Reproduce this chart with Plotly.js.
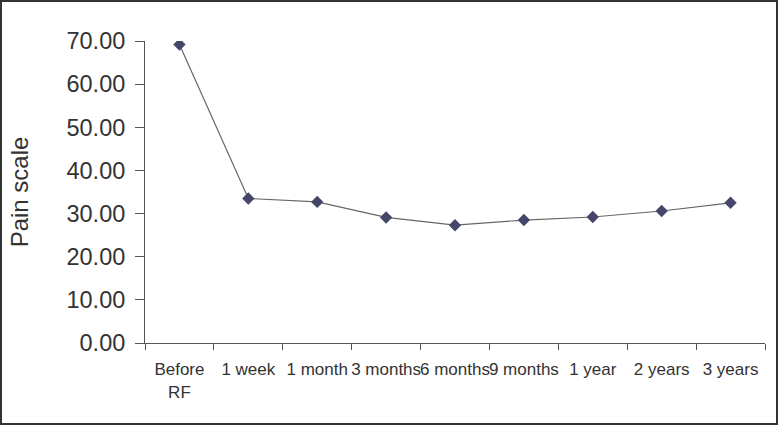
<!DOCTYPE html>
<html>
<head>
<meta charset="utf-8">
<script src="https://cdn.plot.ly/plotly-3.0.1.min.js"></script>
<style>
  html, body { margin: 0; padding: 0; background: #fff; }
  #wrap { position: relative; width: 778px; height: 425px; }
  #chart { position: absolute; left: 0; top: 0; width: 778px; height: 425px; }
  #frame { position: absolute; left: 0; top: 0; width: 778px; height: 425px; box-sizing: border-box; border: 2px solid #333; pointer-events: none; }
</style>
</head>
<body>
<div id="wrap">
  <div id="chart"></div>
  <div id="frame"></div>
</div>
<script>
const categories = ["Before<br>RF", "1 week", "1 month", "3 months", "6 months", "9 months", "1 year", "2 years", "3 years"];
const painScale = [69.2, 33.5, 32.7, 29.1, 27.3, 28.5, 29.2, 30.6, 32.5];
const yTicks = [0, 10, 20, 30, 40, 50, 60, 70];
const yTickLabels = ["0.00", "10.00", "20.00", "30.00", "40.00", "50.00", "60.00", "70.00"];

const trace = {
  x: categories,
  y: painScale,
  type: "scatter",
  mode: "lines+markers",
  line: { color: "#666666", width: 1.2 },
  marker: { symbol: "diamond", size: 9.5, color: "#46466a" },
  hoverinfo: "x+y"
};

const layout = {
  width: 778,
  height: 425,
  margin: { l: 145, r: 13, t: 41, b: 82 },
  paper_bgcolor: "#ffffff",
  plot_bgcolor: "#ffffff",
  showlegend: false,
  font: { family: "Liberation Sans, Arial, sans-serif", color: "#333333" },
  xaxis: {
    type: "category",
    tickson: "boundaries",
    ticks: "outside",
    ticklen: 6,
    tickwidth: 1,
    tickcolor: "#555555",
    showline: true,
    linecolor: "#555555",
    linewidth: 1,
    showgrid: false,
    zeroline: false,
    tickangle: 0,
    ticklabelstandoff: 11,
    tickfont: { size: 17, color: "#333333" },
    range: [-0.5, 8.5]
  },
  yaxis: {
    range: [0, 70],
    tickvals: yTicks,
    ticktext: yTickLabels,
    ticks: "outside",
    ticklen: 9,
    tickwidth: 1,
    tickcolor: "#555555",
    showline: true,
    linecolor: "#555555",
    linewidth: 1,
    showgrid: false,
    zeroline: false,
    ticklabelstandoff: 5,
    tickfont: { size: 23.5, color: "#333333" },
    title: { text: "Pain scale", font: { size: 24, color: "#333333" }, standoff: 31 }
  }
};

Plotly.newPlot("chart", [trace], layout, { displayModeBar: false, staticPlot: true });
</script>
</body>
</html>
